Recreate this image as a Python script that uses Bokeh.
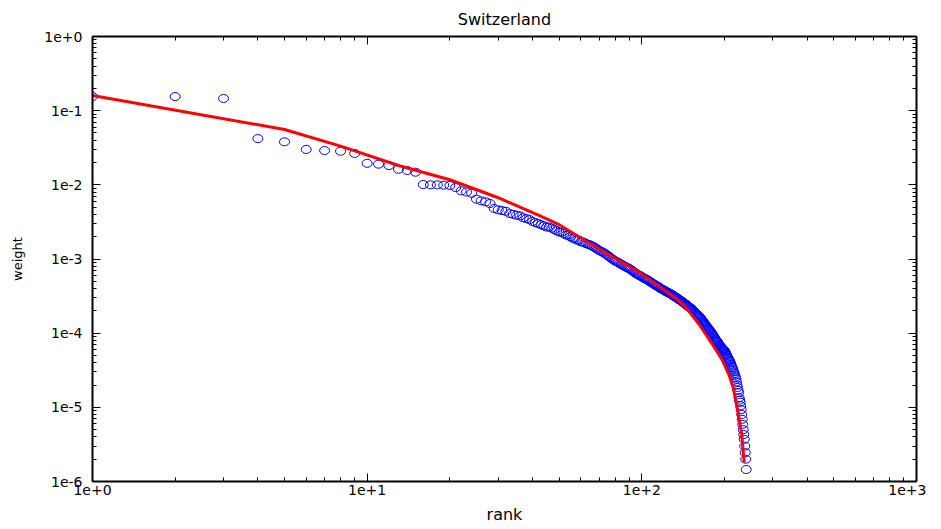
from bokeh.plotting import figure
from bokeh.models import LogAxis, FixedTicker, CustomJSTickFormatter, Range1d
from bokeh.embed import file_html
from bokeh.resources import INLINE

# ---- data ----
weights = [
    0.155, 0.155, 0.146, 0.042, 0.038, 0.030, 0.029, 0.0284, 0.0265, 0.0195,
    0.0190, 0.0182, 0.0162, 0.0156, 0.0148, 0.0101, 0.0100, 0.0100, 0.0099, 0.0098,
    0.0092, 0.0083, 0.0080, 0.0077, 0.0064, 0.0061, 0.0059, 0.0056, 0.0048, 0.0046,
    0.0045, 0.0044, 0.0041, 0.0040, 0.0039, 0.0038, 0.0036, 0.0035, 0.0034, 0.0032,
    0.0031, 0.0030, 0.0029, 0.0028, 0.0027, 0.0027, 0.0026, 0.0025, 0.0024, 0.0023,
    0.0023, 0.0022, 0.0021, 0.0021, 0.0020, 0.0019, 0.0019, 0.0018, 0.0018, 0.0017,
    0.0017, 0.00165, 0.0016, 0.00157, 0.00154, 0.0015, 0.00145, 0.0014, 0.00135, 0.0013,
    1.27e-3, 1.24e-3, 1.20e-3, 1.16e-3, 1.12e-3, 1.08e-3, 1.04e-3, 1.00e-3, 9.7e-4, 9.4e-4,
    9.2e-4, 9.0e-4, 8.7e-4, 8.5e-4, 8.3e-4, 8.1e-4, 7.9e-4, 7.7e-4, 7.6e-4, 7.4e-4,
    7.2e-4, 7.0e-4, 6.8e-4, 6.6e-4, 6.4e-4, 6.3e-4, 6.1e-4, 6.0e-4, 5.9e-4, 5.75e-4,
    5.6e-4, 5.5e-4, 5.4e-4, 5.3e-4, 5.2e-4, 5.1e-4, 4.95e-4, 4.85e-4, 4.75e-4, 4.65e-4,
    4.55e-4, 4.45e-4, 4.37e-4, 4.3e-4, 4.2e-4, 4.1e-4, 4.0e-4, 3.95e-4, 3.9e-4, 3.8e-4,
    3.75e-4, 3.7e-4, 3.6e-4, 3.55e-4, 3.5e-4, 3.47e-4, 3.4e-4, 3.35e-4, 3.3e-4, 3.2e-4,
    3.15e-4, 3.1e-4, 3.05e-4, 3.0e-4, 2.95e-4, 2.88e-4, 2.82e-4, 2.78e-4, 2.73e-4, 2.68e-4,
    2.62e-4, 2.57e-4, 2.52e-4, 2.47e-4, 2.42e-4, 2.37e-4, 2.32e-4, 2.28e-4, 2.23e-4, 2.19e-4,
    2.14e-4, 2.10e-4, 2.05e-4, 2.00e-4, 1.95e-4, 1.90e-4, 1.85e-4, 1.81e-4, 1.77e-4, 1.73e-4,
    1.70e-4, 1.66e-4, 1.62e-4, 1.57e-4, 1.52e-4, 1.47e-4, 1.43e-4, 1.39e-4, 1.35e-4, 1.31e-4,
    1.27e-4, 1.23e-4, 1.20e-4, 1.16e-4, 1.13e-4, 1.10e-4, 1.07e-4, 1.04e-4, 1.01e-4, 9.8e-5,
    9.5e-5, 9.2e-5, 8.9e-5, 8.6e-5, 8.3e-5, 8.1e-5, 7.9e-5, 7.7e-5, 7.5e-5, 7.2e-5,
    7.0e-5, 6.8e-5, 6.7e-5, 6.5e-5, 6.4e-5, 6.2e-5, 6.1e-5, 6.0e-5, 5.9e-5, 5.75e-5,
    5.55e-5, 5.35e-5, 5.15e-5, 4.95e-5, 4.75e-5, 4.6e-5, 4.45e-5, 4.3e-5, 4.15e-5, 3.98e-5,
    3.8e-5, 3.6e-5, 3.45e-5, 3.3e-5, 3.15e-5, 3.0e-5, 2.85e-5, 2.7e-5, 2.55e-5, 2.4e-5,
    2.2e-5, 2.0e-5, 1.85e-5, 1.7e-5, 1.58e-5, 1.35e-5, 1.25e-5, 1.17e-5, 1.05e-5, 9.3e-6,
    8.0e-6, 6.9e-6, 5.9e-6, 5.0e-6, 4.3e-6, 3.7e-6, 3.0e-6, 2.45e-6, 2.0e-6, 1.45e-6,
]
ranks = list(range(1, len(weights) + 1))

fit_ranks = [1, 5, 8, 13, 20, 30, 42, 50, 59, 70, 98, 126, 137, 148, 162, 181, 196, 208, 215, 223, 231, 236]
fit_weights = [0.16, 0.0558, 0.0333, 0.0182, 0.0117, 0.0067, 0.0039, 0.0029, 0.0020, 0.00135,
               6.6e-4, 3.4e-4, 2.7e-4, 2.0e-4, 1.3e-4, 7.0e-5, 4.4e-5, 2.7e-5, 1.85e-5, 9.5e-6,
               4.3e-6, 1.8e-6]

x_major = [1, 10, 100, 1000]
y_major = [1e-6, 1e-5, 1e-4, 1e-3, 1e-2, 1e-1, 1]

title_text = "Switzerland"
x_label = "rank"
y_label = "weight"

# ---- figure ----
FONT = "DejaVu Sans"
p = figure(x_axis_type="log", y_axis_type="log",
           x_range=Range1d(1, 1000), y_range=Range1d(1e-6, 1),
           output_backend="svg", toolbar_location=None, title=title_text,
           frame_width=824, frame_height=445,
           min_border_left=92, min_border_right=10, min_border_top=36, min_border_bottom=44)
p.xgrid.visible = False
p.ygrid.visible = False
p.outline_line_color = None
p.background_fill_color = "white"
p.border_fill_color = "white"

p.title.align = "center"
p.title.text_font = FONT
p.title.text_font_size = "16px"
p.title.text_font_style = "normal"
p.title.text_color = "black"
p.title.text_line_height = 1.0
p.title.standoff = 15

x_minor = [m * d for d in [1, 10, 100] for m in range(2, 10)]
y_minor = [m * d for d in [1e-6, 1e-5, 1e-4, 1e-3, 1e-2, 1e-1] for m in range(2, 10)]

fmt = CustomJSTickFormatter(code="""
const e = Math.round(Math.log10(tick));
return "1e" + (e >= 0 ? "+" : "-") + Math.abs(e);
""")
blank = CustomJSTickFormatter(code='return "";')

def style_axis(ax, ticks, minor, show_labels):
    ax.ticker = FixedTicker(ticks=ticks, minor_ticks=minor)
    ax.formatter = fmt if show_labels else blank
    ax.axis_line_color = "black"
    ax.axis_line_width = 2
    ax.major_tick_in = 8
    ax.major_tick_out = 0
    ax.minor_tick_in = 4
    ax.minor_tick_out = 0
    ax.major_tick_line_color = "black"
    ax.minor_tick_line_color = "black"
    ax.major_label_text_font = FONT
    ax.major_label_text_font_size = "14px"
    ax.major_label_text_color = "black"
    ax.axis_label_text_font = FONT
    ax.axis_label_text_font_style = "normal"
    ax.axis_label_text_color = "black"
    if not show_labels:
        ax.major_label_standoff = 0

style_axis(p.xaxis[0], x_major, x_minor, True)
style_axis(p.yaxis[0], y_major, y_minor, True)
p.xaxis[0].axis_label = x_label
p.yaxis[0].axis_label = y_label
p.xaxis[0].axis_label_text_font_size = "16px"
p.yaxis[0].axis_label_text_font_size = "13px"
p.xaxis[0].major_label_standoff = 3
p.yaxis[0].major_label_standoff = 10
p.xaxis[0].axis_label_standoff = 7
p.yaxis[0].axis_label_standoff = 16

top = LogAxis()
style_axis(top, x_major, x_minor, False)
p.add_layout(top, "above")
right = LogAxis()
style_axis(right, y_major, y_minor, False)
p.add_layout(right, "right")

p.ellipse(x=ranks, y=weights, width=10, height=8, width_units="screen", height_units="screen",
          fill_color=None, line_color="#0000ff", line_width=1)
p.line(x=fit_ranks, y=fit_weights, line_color="#ff0000", line_width=3)

open("out.html", "w").write(file_html(p, INLINE))
